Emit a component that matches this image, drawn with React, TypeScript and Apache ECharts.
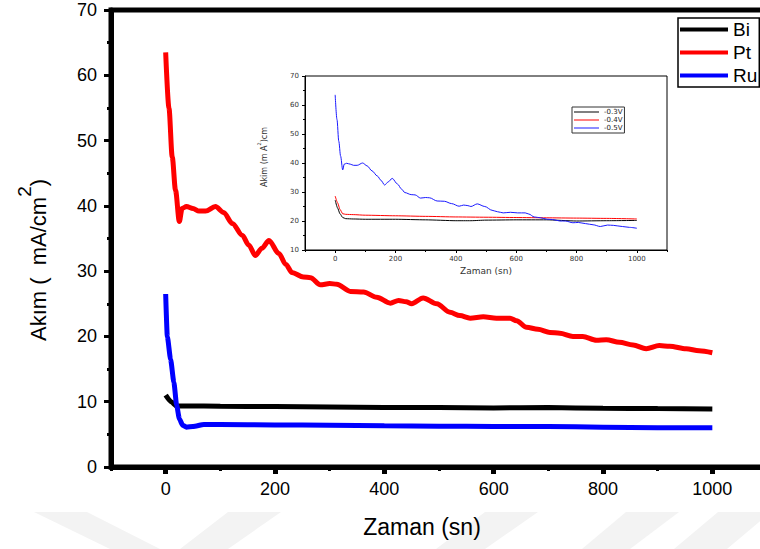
import React, { useEffect, useRef } from "react";
import * as echarts from "echarts";

// ---- main chart data ----
const xMajorTicks = [0, 200, 400, 600, 800, 1000];
const xMinorTicks = [-100, 100, 300, 500, 700, 900, 1100];
const mainLegend = ["Bi", "Pt", "Ru"];

const biData: [number, number][] = [
  [0, 11.0], [10, 10.0], [20, 9.35], [40, 9.35], [100, 9.3], [200, 9.25],
  [300, 9.2], [400, 9.1], [500, 9.1], [600, 9.05], [700, 9.1], [800, 9.0],
  [900, 8.95], [1000, 8.9],
];

const ptData: [number, number][] = [
  [0, 63.5], [6, 55], [12, 47.5], [18, 42.4], [25, 37.6], [30, 39.6], [38, 39.9],
  [50, 39.6], [61, 39.2], [73, 39.2], [91, 39.9], [106, 39.0], [122, 37.3],
  [140, 35.5], [152, 34.0], [164, 32.4], [176, 33.5], [189, 34.7], [207, 32.7],
  [220, 31.0], [231, 29.8], [252, 29.1], [265, 29.0], [283, 27.9], [300, 28.1],
  [313, 28.0], [338, 26.9], [362, 26.8], [386, 26.0], [411, 25.1], [426, 25.5],
  [440, 25.3], [450, 25.0], [471, 25.9], [496, 25.0], [520, 23.7], [538, 23.2],
  [557, 22.8], [581, 23.0], [605, 22.8], [630, 22.8], [642, 22.4], [660, 21.4],
  [681, 21.1], [703, 20.6], [721, 20.5], [745, 20.0], [763, 20.0], [788, 19.4],
  [806, 19.5], [830, 19.1], [855, 18.7], [879, 18.1], [903, 18.6], [922, 18.5],
  [952, 18.1], [976, 17.8], [1000, 17.5],
];

const ruData: [number, number][] = [
  [0, 26.5], [3, 20.0], [9, 16.5], [15, 13.0], [20, 9.5], [25, 7.4], [31, 6.4],
  [38, 6.1], [50, 6.2], [70, 6.5], [100, 6.5], [200, 6.45], [300, 6.4],
  [400, 6.3], [500, 6.25], [600, 6.2], [700, 6.2], [800, 6.1], [900, 6.0],
  [1000, 6.0],
];

// ---- inset data ----
const insetLegend = ["-0.3V", "-0.4V", "-0.5V"];

const inset03: [number, number][] = [
  [0, 27.2], [8, 24.5], [16, 22.5], [25, 21.2], [35, 20.8], [60, 20.7],
  [100, 20.6], [200, 20.6], [300, 20.4], [400, 20.1], [450, 20.1], [500, 20.3],
  [600, 20.4], [700, 20.4], [800, 20.0], [900, 20.1], [1000, 20.2],
];

const inset04: [number, number][] = [
  [0, 28.6], [8, 26.3], [16, 24.0], [25, 22.5], [35, 22.3], [60, 22.2],
  [100, 22.0], [200, 21.8], [300, 21.6], [400, 21.4], [500, 21.3], [600, 21.2],
  [700, 21.1], [800, 21.0], [900, 20.9], [1000, 20.7],
];

const inset05: [number, number][] = [
  [0, 63.5], [6, 55], [12, 47.5], [18, 42.4], [25, 37.6], [30, 39.6], [38, 39.9],
  [50, 39.6], [61, 39.2], [73, 39.2], [91, 40.0], [106, 39.0], [122, 37.3],
  [140, 35.5], [152, 34.0], [164, 32.4], [176, 33.5], [189, 34.7], [207, 32.7],
  [220, 31.0], [231, 29.8], [252, 29.1], [265, 29.0], [283, 27.9], [300, 28.1],
  [313, 28.0], [338, 26.9], [362, 26.8], [386, 26.0], [411, 25.1], [426, 25.5],
  [440, 25.3], [450, 25.0], [471, 25.9], [496, 25.0], [520, 23.7], [538, 23.2],
  [557, 22.8], [581, 23.0], [605, 22.8], [630, 22.8], [642, 22.4], [660, 21.4],
  [681, 21.1], [703, 20.6], [721, 20.5], [745, 20.0], [763, 20.0], [788, 19.4],
  [806, 19.5], [830, 19.1], [855, 18.7], [879, 18.1], [903, 18.6], [922, 18.5],
  [952, 18.1], [976, 17.8], [1000, 17.5],
];

const FONT = "Liberation Sans, Arial, sans-serif";
const SMALL_FONT = "DejaVu Sans, sans-serif";

export default function App() {
  const ref = useRef<HTMLDivElement>(null);

  useEffect(() => {
    if (!ref.current) return;
    const chart = echarts.init(ref.current, undefined, { renderer: "svg" });

    const wm = (pts: number[][]) => ({
      type: "polygon",
      z: -10,
      silent: true,
      shape: { points: pts },
      style: { fill: "#f3f3f3" },
    });

    const plain = (v: number) => String(v);

    const option: any = {
      animation: false,
      backgroundColor: "#fff",
      grid: [
        {
          left: 111, top: 10, width: 656, height: 457, outerBoundsMode: "none",
          show: true, borderColor: "#000", borderWidth: 5, backgroundColor: "transparent",
        },
        {
          left: 305, top: 76, width: 362, height: 174, outerBoundsMode: "none",
          show: true, borderColor: "#000", borderWidth: 1, backgroundColor: "#fff",
        },
      ],
      xAxis: [
        {
          type: "value", gridIndex: 0, min: -100, max: 1100, position: "bottom",
          axisLine: { show: true, onZero: false, lineStyle: { color: "#000", width: 5 } },
          axisTick: { show: true, customValues: xMajorTicks, length: 7, lineStyle: { color: "#000", width: 5 } },
          axisLabel: { customValues: xMajorTicks, formatter: plain, fontSize: 18, color: "#000", fontFamily: FONT, margin: 13 },
          splitLine: { show: false },
        },
        {
          type: "value", gridIndex: 0, min: -100, max: 1100, position: "bottom",
          axisLine: { show: false },
          axisTick: { show: true, customValues: xMinorTicks, length: 4, lineStyle: { color: "#000", width: 3 } },
          axisLabel: { show: false },
          splitLine: { show: false },
        },
        {
          type: "value", gridIndex: 1, min: -100, max: 1100, position: "bottom",
          axisLine: { show: true, onZero: false, lineStyle: { color: "#000", width: 1 } },
          axisTick: { show: true, customValues: xMajorTicks, length: 3, lineStyle: { color: "#000", width: 1 } },
          axisLabel: { customValues: xMajorTicks, formatter: plain, fontSize: 7, color: "#333", fontFamily: SMALL_FONT, margin: 5 },
          splitLine: { show: false },
        },
        {
          type: "value", gridIndex: 1, min: -100, max: 1100, position: "bottom",
          axisLine: { show: false },
          axisTick: { show: true, customValues: xMinorTicks, length: 2, lineStyle: { color: "#000", width: 1 } },
          axisLabel: { show: false },
          splitLine: { show: false },
        },
      ],
      yAxis: [
        {
          type: "value", gridIndex: 0, min: 0, max: 70, interval: 10,
          axisLine: { show: true, onZero: false, lineStyle: { color: "#000", width: 5 } },
          axisTick: { show: true, length: 7, lineStyle: { color: "#000", width: 3 } },
          minorTick: { show: true, splitNumber: 2, length: 4, lineStyle: { color: "#000", width: 3 } },
          axisLabel: { fontSize: 18, color: "#000", fontFamily: FONT, margin: 14 },
          splitLine: { show: false },
        },
        {
          type: "value", gridIndex: 1, min: 10, max: 70, interval: 10,
          axisLine: { show: true, onZero: false, lineStyle: { color: "#000", width: 1 } },
          axisTick: { show: true, length: 3, lineStyle: { color: "#000", width: 1 } },
          minorTick: { show: true, splitNumber: 2, length: 2, lineStyle: { color: "#000", width: 1 } },
          axisLabel: { fontSize: 7, color: "#333", fontFamily: SMALL_FONT, margin: 6 },
          splitLine: { show: false },
        },
      ],
      legend: [
        {
          data: mainLegend,
          orient: "vertical",
          left: 678, top: 18,
          icon: "rect",
          itemWidth: 48, itemHeight: 4,
          itemGap: 4,
          padding: [2, 2, 2, 2],
          borderColor: "#000", borderWidth: 1.5,
          backgroundColor: "#fff",
          textStyle: { fontSize: 19, color: "#000", fontFamily: FONT, lineHeight: 19 },
        },
        {
          data: insetLegend,
          orient: "vertical",
          left: 572, top: 107,
          icon: "rect",
          itemWidth: 25, itemHeight: 1,
          itemGap: 0,
          padding: [1, 2, 1, 2],
          borderColor: "#333", borderWidth: 1,
          backgroundColor: "#fff",
          textStyle: { fontSize: 7, color: "#222", fontFamily: SMALL_FONT, lineHeight: 8 },
        },
      ],
      series: [
        {
          name: "Bi", type: "line", xAxisIndex: 0, yAxisIndex: 0, data: biData,
          showSymbol: false, color: "#000", lineStyle: { color: "#000", width: 5 },
          smooth: 0.2, smoothMonotone: "x", z: 3,
        },
        {
          name: "Pt", type: "line", xAxisIndex: 0, yAxisIndex: 0, data: ptData,
          showSymbol: false, color: "#ff0000", lineStyle: { color: "#ff0000", width: 5 },
          smooth: 0.3, smoothMonotone: "x", z: 3,
        },
        {
          name: "Ru", type: "line", xAxisIndex: 0, yAxisIndex: 0, data: ruData,
          showSymbol: false, color: "#0000ff", lineStyle: { color: "#0000ff", width: 5 },
          smooth: 0.2, smoothMonotone: "x", z: 3,
        },
        {
          name: "-0.3V", type: "line", xAxisIndex: 2, yAxisIndex: 1, data: inset03,
          showSymbol: false, color: "#000", lineStyle: { color: "#000", width: 1 },
          smooth: 0.2, smoothMonotone: "x",
        },
        {
          name: "-0.4V", type: "line", xAxisIndex: 2, yAxisIndex: 1, data: inset04,
          showSymbol: false, color: "#ff0000", lineStyle: { color: "#ff0000", width: 1 },
          smooth: 0.2, smoothMonotone: "x",
        },
        {
          name: "-0.5V", type: "line", xAxisIndex: 2, yAxisIndex: 1, data: inset05,
          showSymbol: false, color: "#1a1aff", lineStyle: { color: "#1a1aff", width: 1 },
          smooth: 0.3, smoothMonotone: "x",
        },
      ],
      graphic: [
        wm([[34, 512], [87, 512], [160, 549], [110, 549]]),
        wm([[228, 512], [281, 512], [228, 549], [180, 549]]),
        wm([[485, 512], [538, 512], [485, 549], [436, 549]]),
        wm([[626, 512], [679, 512], [630, 549], [582, 549]]),
        wm([[718, 512], [771, 512], [727, 549], [674, 549]]),
        {
          type: "text", x: 422, y: 527,
          style: {
            text: "Zaman (sn)", fontSize: 23, fontFamily: FONT, fill: "#000",
            align: "center", verticalAlign: "middle",
          },
        },
        {
          type: "text", x: 32, y: 260, rotation: Math.PI / 2,
          style: {
            text: "{a|Akım (  mA/cm}{s|2}{a|)}",
            align: "center", verticalAlign: "middle",
            rich: {
              a: { fontSize: 22, fontFamily: FONT, fill: "#000", lineHeight: 34, verticalAlign: "bottom" },
              s: { fontSize: 19, fontFamily: FONT, fill: "#000", lineHeight: 34, verticalAlign: "top" },
            },
          },
        },
        {
          type: "text", x: 486, y: 271,
          style: {
            text: "Zaman (sn)", fontSize: 9, fontFamily: SMALL_FONT, fill: "#333",
            align: "center", verticalAlign: "middle",
          },
        },
        {
          type: "text", x: 262, y: 157, rotation: Math.PI / 2,
          style: {
            text: "{a|Akim (m A}{s|2}{a|)cm}",
            align: "center", verticalAlign: "middle",
            rich: {
              a: { fontSize: 8, fontFamily: SMALL_FONT, fill: "#333", lineHeight: 12, verticalAlign: "bottom" },
              s: { fontSize: 5, fontFamily: SMALL_FONT, fill: "#333", lineHeight: 12, verticalAlign: "top" },
            },
          },
        },
      ],
    };

    chart.setOption(option);
    return () => chart.dispose();
  }, []);

  return (
    <div
      ref={ref}
      style={{ position: "absolute", left: 0, top: 0, width: 760, height: 549, background: "#fff" }}
    />
  );
}
